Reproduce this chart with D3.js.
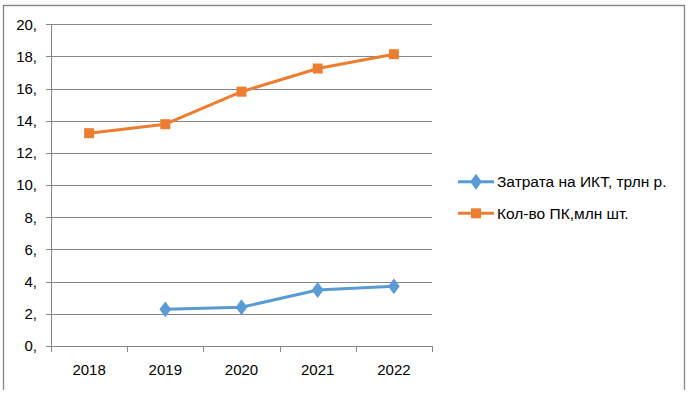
<!DOCTYPE html>
<html><head><meta charset="utf-8">
<script src="https://cdn.jsdelivr.net/npm/d3@7"></script>
<style>html,body{margin:0;padding:0;background:#fff;}svg{display:block;font-family:"Liberation Sans",Arial,sans-serif;}</style>
</head><body>
<svg id="c" width="691" height="405"></svg>
<script>
const years = ["2018","2019","2020","2021","2022"];
const ictCost = [null, 2.28, 2.41, 3.48, 3.71];
const pcCount = [13.23, 13.79, 15.81, 17.25, 18.14];
const yTicks = [0,2,4,6,8,10,12,14,16,18,20];
const seriesNames = ["Затрата на ИКТ, трлн р.", "Кол-во ПК,млн шт."];
const colors = ["#5b9bd5", "#ed7d31"];

const svg = d3.select("#c");
const grey = "#868686";
// outer border (bottom edge cut off)
svg.append("path").attr("d","M3.5,390 V5.5 H684.5 V390").attr("fill","none").attr("stroke",grey).attr("stroke-width",1.3);

const x = d3.scaleBand().domain(years).range([51,432]);
const y = d3.scaleLinear().domain([0,20]).range([346,24.3]);

// gridlines
svg.append("g").selectAll("line").data(yTicks).join("line")
  .attr("x1",46).attr("x2",432)
  .attr("y1",d=>Math.round(y(d))+0.5).attr("y2",d=>Math.round(y(d))+0.5)
  .attr("stroke",grey).attr("stroke-width",1);
// y axis line
svg.append("line").attr("x1",51.5).attr("x2",51.5).attr("y1",y(20)).attr("y2",y(0)).attr("stroke",grey);
// x ticks
const bounds = years.map(d=>x(d)).concat([432]);
svg.append("g").selectAll("line").data(bounds).join("line")
  .attr("x1",d=>Math.round(d)+0.5).attr("x2",d=>Math.round(d)+0.5)
  .attr("y1",Math.round(y(0))).attr("y2",Math.round(y(0))+6).attr("stroke",grey);
// y labels
svg.append("g").selectAll("text").data(yTicks).join("text")
  .attr("x",37).attr("y",d=>y(d)).attr("dy","0.35em").attr("text-anchor","end")
  .attr("font-size",15).attr("fill","#000").text(d=>d+",");
// x labels
svg.append("g").selectAll("text").data(years).join("text")
  .attr("x",d=>x(d)+x.bandwidth()/2).attr("y",370).attr("dy","0.35em").attr("text-anchor","middle")
  .attr("font-size",15).attr("fill","#000").text(d=>d);

const cx = d=>x(d)+x.bandwidth()/2;
function drawSeries(vals, color, marker){
  const pts = years.map((yr,i)=>({yr, v: vals[i]})).filter(p=>p.v!=null);
  svg.append("path").datum(pts)
    .attr("d", d3.line().x(p=>cx(p.yr)).y(p=>y(p.v)))
    .attr("fill","none").attr("stroke",color).attr("stroke-width",3).attr("stroke-linejoin","round");
  const sym = d3.symbol().type(marker==="sq"?d3.symbolSquare:d3.symbolDiamond).size(marker==="sq"?100:90);
  svg.append("g").selectAll("path").data(pts).join("path")
    .attr("transform",p=>`translate(${cx(p.yr)},${y(p.v)})${marker==="sq"?"":" scale(1.15,0.9)"}`)
    .attr("d",sym).attr("fill",color);
}
drawSeries(ictCost, colors[0], "di");
drawSeries(pcCount, colors[1], "sq");

// legend
const leg = svg.append("g");
[181.7, 213.3].forEach((ly,i)=>{
  leg.append("line").attr("x1",458).attr("x2",494).attr("y1",ly).attr("y2",ly).attr("stroke",colors[i]).attr("stroke-width",3);
  const sym = d3.symbol().type(i===1?d3.symbolSquare:d3.symbolDiamond).size(i===1?100:90);
  leg.append("path").attr("transform",`translate(476,${ly})${i===1?"":" scale(1.15,0.9)"}`).attr("d",sym).attr("fill",colors[i]);
  leg.append("text").attr("x",497).attr("y",ly).attr("dy","0.35em").attr("font-size",15.5).attr("fill","#000").text(seriesNames[i]);
});
</script>
</body></html>
